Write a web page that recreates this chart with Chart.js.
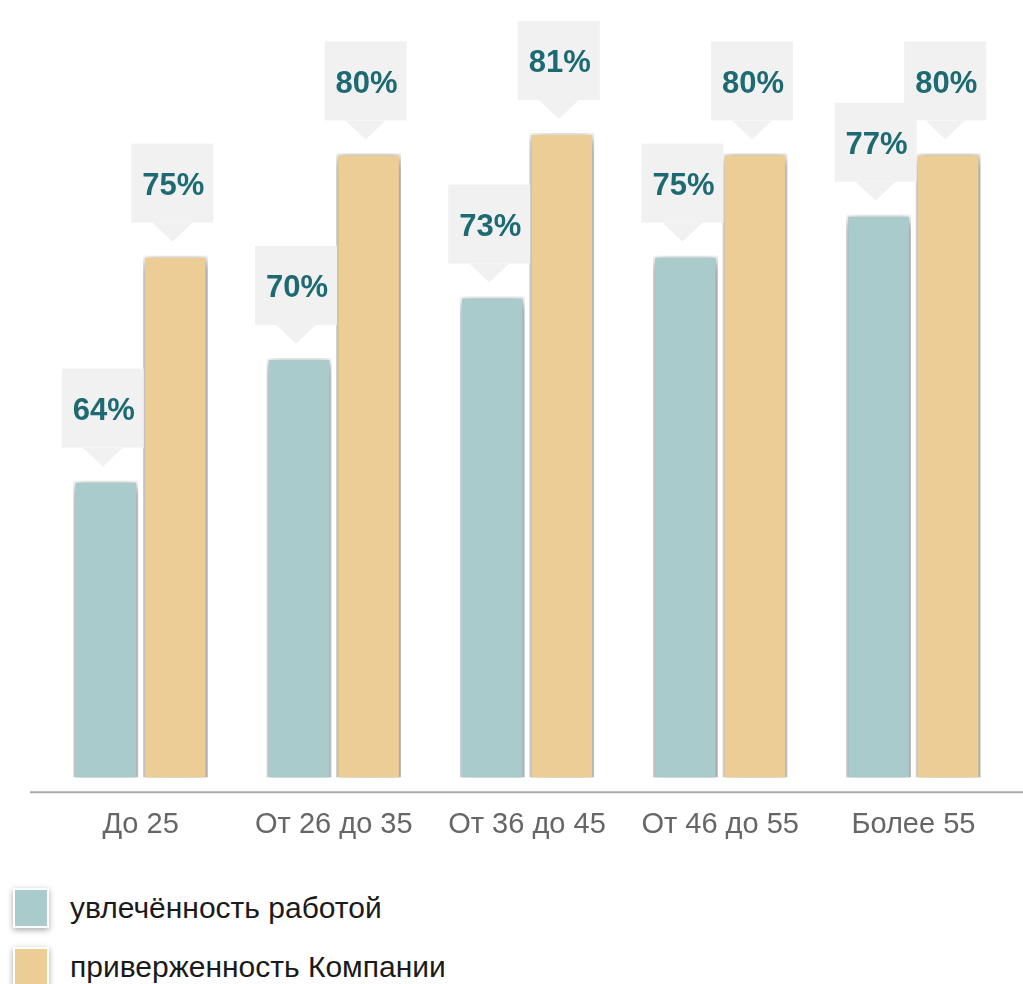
<!DOCTYPE html>
<html>
<head>
<meta charset="utf-8">
<script src="https://cdn.jsdelivr.net/npm/chart.js@4.4.1/dist/chart.umd.min.js"></script>
<style>
    body { margin: 0; background: #fff; font-family: Arial, "Liberation Sans", sans-serif; }
    #wrap { position: relative; width: 1023px; height: 864px; }
    #legend { position: absolute; left: 13px; top: 888px; }
    .item { display: flex; align-items: center; height: 40px; margin-bottom: 19px; font-size: 30px; color: #1a1a1a; }
    .swatch { width: 32px; height: 36px; border: 2px solid #fff; box-shadow: 0 2px 6px rgba(0,0,0,0.35); margin-right: 21px; }
</style>
</head>
<body>
<div id="wrap"><canvas id="ageChart"></canvas></div>
<div id="legend"></div>

<script>
// data
const ageGroups = ['До 25', 'От 26 до 35', 'От 36 до 45', 'От 46 до 55', 'Более 55'];
const seriesNames = ['увлечённость работой', 'приверженность Компании'];
const engagement = [64, 70, 73, 75, 77];
const commitment = [75, 80, 81, 80, 80];
const seriesColors = ['#a9cbcb', '#eccd95'];

const fontFamily = 'Arial, "Liberation Sans", sans-serif';

// shadows under bars
const barShadow = {
    id: 'barShadow',
    beforeDatasetsDraw(chart) {
        const ctx = chart.ctx;
        ctx.save();
        ctx.shadowColor = 'rgba(0,0,0,0.6)';
        ctx.shadowBlur = 11;
        ctx.shadowOffsetX = 1;
        ctx.shadowOffsetY = 3;
    },
    afterDatasetsDraw(chart) {
        chart.ctx.restore();
    }
};

// callout boxes with value + axis line
const callouts = {
    id: 'callouts',
    afterDatasetsDraw(chart) {
        const ctx = chart.ctx;
        const area = chart.chartArea;

        // base line
        ctx.save();
        ctx.strokeStyle = '#aaaaaa';
        ctx.lineWidth = 2;
        ctx.beginPath();
        ctx.moveTo(30, area.bottom + 15);
        ctx.lineTo(chart.width, area.bottom + 15);
        ctx.stroke();

        chart.data.datasets.forEach((ds, di) => {
            chart.getDatasetMeta(di).data.forEach((bar, i) => {
                const cx = bar.x - 3;
                const tip = bar.y - 14;
                const boxBottom = tip - 19;
                const boxTop = boxBottom - 79;
                ctx.fillStyle = '#f1f1f1';
                ctx.fillRect(cx - 41, boxTop, 82, 79);
                ctx.beginPath();
                ctx.moveTo(cx - 20, boxBottom);
                ctx.lineTo(cx + 20, boxBottom);
                ctx.lineTo(cx, tip);
                ctx.closePath();
                ctx.fill();

                ctx.fillStyle = '#1d6a72';
                ctx.font = 'bold 31px ' + fontFamily;
                ctx.textAlign = 'center';
                ctx.textBaseline = 'middle';
                ctx.fillText(ds.data[i] + '%', cx + 1, boxTop + 43);
            });
        });
        ctx.restore();
    }
};

const ctx = document.getElementById('ageChart').getContext('2d');
new Chart(ctx, {
    type: 'bar',
    data: {
        labels: ageGroups,
        datasets: [
            { label: seriesNames[0], data: engagement, backgroundColor: seriesColors[0] },
            { label: seriesNames[1], data: commitment, backgroundColor: seriesColors[1] }
        ]
    },
    options: {
        responsive: true,
        maintainAspectRatio: false,
        animation: false,
        layout: { padding: { left: 44, right: 13, top: 0, bottom: 0 } },
        datasets: {
            bar: {
                borderColor: '#ffffff',
                borderWidth: 2,
                borderSkipped: false,
                categoryPercentage: 0.72,
                barPercentage: 0.93
            }
        },
        plugins: {
            legend: { display: false },
            tooltip: { enabled: false }
        },
        scales: {
            y: { display: false, min: 49.5, max: 87.5 },
            x: {
                grid: { display: false },
                border: { display: false },
                ticks: {
                    color: '#666666',
                    padding: 22,
                    font: { family: fontFamily, size: 29 }
                }
            }
        }
    },
    plugins: [barShadow, callouts]
});

// legend
document.getElementById('legend').innerHTML = seriesNames.map((name, i) => `
    <div class="item"><span class="swatch" style="background:${seriesColors[i]}"></span>${name}</div>
`).join('');
</script>
</body>
</html>
